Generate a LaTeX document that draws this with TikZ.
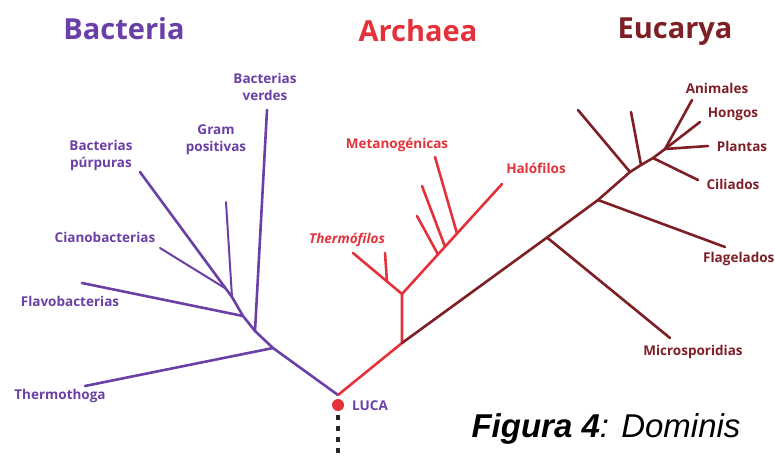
\documentclass[tikz,border=0pt]{standalone}
\usepackage{fontspec}
\setmainfont{Open Sans}
\newfontfamily\figfont{Liberation Sans}
\usetikzlibrary{calc}
\definecolor{bacmorado}{HTML}{6A3FA6}
\definecolor{arqrojo}{HTML}{E3323A}
\definecolor{eucgranate}{HTML}{7E1F26}

\begin{document}
\begin{tikzpicture}[x=1pt,y=-1pt,
    rama/.style={line width=2.6pt, line cap=round, line join=round},
    etiqueta/.style={font=\fontsize{13.5}{17}\selectfont\bfseries, align=center, inner sep=0pt},
    titulo/.style={font=\fontsize{29}{33}\selectfont\bfseries, inner sep=0pt}]
    \useasboundingbox (0,0) rectangle (775,455);
    % Titulos de los dominios
    \node[titulo, bacmorado]  (tBac) at (124,29) {Bacteria};
    \node[titulo, arqrojo]    (tArq) at (418,31) {Archaea};
    \node[titulo, eucgranate] (tEuc) at (675,32) {Eucarya};
    % Raiz y LUCA
    \coordinate (raiz) at (338,395);
    \node[circle, fill=arqrojo, inner sep=0pt, minimum size=12pt] (luca) at (338,405) {};
    \node[etiqueta, bacmorado, anchor=west] (lLuca) at (352,406) {LUCA};
    \coordinate (fin) at (338,460);
    \draw[black!85, line width=3.5pt, dash pattern=on 5pt off 6pt] ([yshift=-4pt]luca.south) -- (fin);
    % Bacteria
    \coordinate (b1) at (273,348);
    \coordinate (b2) at (255,331);
    \coordinate (b3) at (243,316);
    \coordinate (b4) at (232,297);
    \coordinate (b5) at (225.6,288.5);
    \coordinate (bThermo) at (85,386);
    \coordinate (bVerdes) at (267,110);
    \coordinate (bFlavo) at (82,283);
    \coordinate (bCiano) at (160,248);
    \coordinate (bGram) at (226,202);
    \coordinate (bPurp) at (140,172);
    \draw[rama, bacmorado] (raiz) -- (b1) -- (b2) -- (b3) -- (b4) -- (bPurp);
    \draw[rama, bacmorado] (b1) -- (bThermo);
    \draw[rama, bacmorado] (b2) -- (bVerdes);
    \draw[rama, bacmorado] (b3) -- (bFlavo);
    \draw[rama, bacmorado, line width=2pt] (b5) -- (bCiano);
    \draw[rama, bacmorado, line width=2pt] (b4) -- (bGram);
    \node[etiqueta, bacmorado] (lVerdes) at (265,87) {Bacterias\\verdes};
    \node[etiqueta, bacmorado] (lGram) at (216,140) {Gram\\positivas};
    \node[etiqueta, bacmorado] (lPurp) at (101,155) {Bacterias\\púrpuras};
    \node[etiqueta, bacmorado] (lCiano) at (105,237) {Cianobacterias};
    \node[etiqueta, bacmorado] (lFlavo) at (70,301) {Flavobacterias};
    \node[etiqueta, bacmorado] (lThermo) at (60,396) {Thermothoga};
    % Archaea
    \coordinate (a1) at (402,343);
    \coordinate (a2) at (402,294);
    \coordinate (a3) at (387,281.5);
    \coordinate (aTermo) at (353,253);
    \coordinate (aTermoB) at (385,253);
    \coordinate (aHalo) at (502,184);
    \coordinate (m1) at (438,254.4);
    \coordinate (m2) at (445,246.7);
    \coordinate (m3) at (457,233.5);
    \coordinate (aMet1) at (417,216);
    \coordinate (aMet2) at (422,186);
    \coordinate (aMet3) at (435,157);
    \draw[rama, arqrojo] (raiz) -- (a1) -- (a2) -- (aTermo);
    \draw[rama, arqrojo] (a3) -- (aTermoB);
    \draw[rama, arqrojo] (a2) -- (aHalo);
    \draw[rama, arqrojo] (m1) -- (aMet1);
    \draw[rama, arqrojo] (m2) -- (aMet2);
    \draw[rama, arqrojo] (m3) -- (aMet3);
    \node[etiqueta, arqrojo] (lMet) at (397,145) {Metanogénicas};
    \node[etiqueta, arqrojo, font=\fontsize{13.5}{17}\selectfont\bfseries\itshape] (lTermo) at (347,240) {Thermófilos};
    \node[etiqueta, arqrojo] (lHalo) at (536,168) {Halófilos};
    % Eucarya
    \coordinate (e1) at (547,237.5);
    \coordinate (e2) at (598,200);
    \coordinate (e3) at (630,172);
    \coordinate (e4) at (641,165);
    \coordinate (e5) at (653,158);
    \coordinate (e6) at (665,149);
    \coordinate (eMicro) at (670,338);
    \coordinate (eFlag) at (725,247);
    \coordinate (eX1) at (578,110);
    \coordinate (eX2) at (631,112);
    \coordinate (eCil) at (698,180);
    \coordinate (eAni) at (692,100);
    \coordinate (eHon) at (700,122);
    \coordinate (ePla) at (708,146);
    \draw[rama, eucgranate] (a1) -- (e1) -- (e2) -- (e3) -- (e4) -- (e5) -- (e6);
    \foreach \ini/\fin in {e1/eMicro, e2/eFlag, e3/eX1, e4/eX2, e5/eCil, e6/eAni, e6/eHon, e6/ePla} {
        \draw[rama, eucgranate] (\ini) -- (\fin);
    }
    \node[etiqueta, eucgranate] (lAni) at (717,88) {Animales};
    \node[etiqueta, eucgranate] (lHon) at (733,114) {Hongos};
    \node[etiqueta, eucgranate] (lPla) at (742,146) {Plantas};
    \node[etiqueta, eucgranate] (lCil) at (733,184) {Ciliados};
    \node[etiqueta, eucgranate, anchor=west] (lFlag) at (703,259) {Flagelados};
    \node[etiqueta, eucgranate] (lMicro) at (693,352) {Microsporidias};
    % Pie de figura
    \node[inner sep=0pt, font=\figfont\fontsize{33}{36}\selectfont\itshape] (pie) at (606,429) {\textbf{Figura 4}: Dominis};
\end{tikzpicture}
\end{document}
